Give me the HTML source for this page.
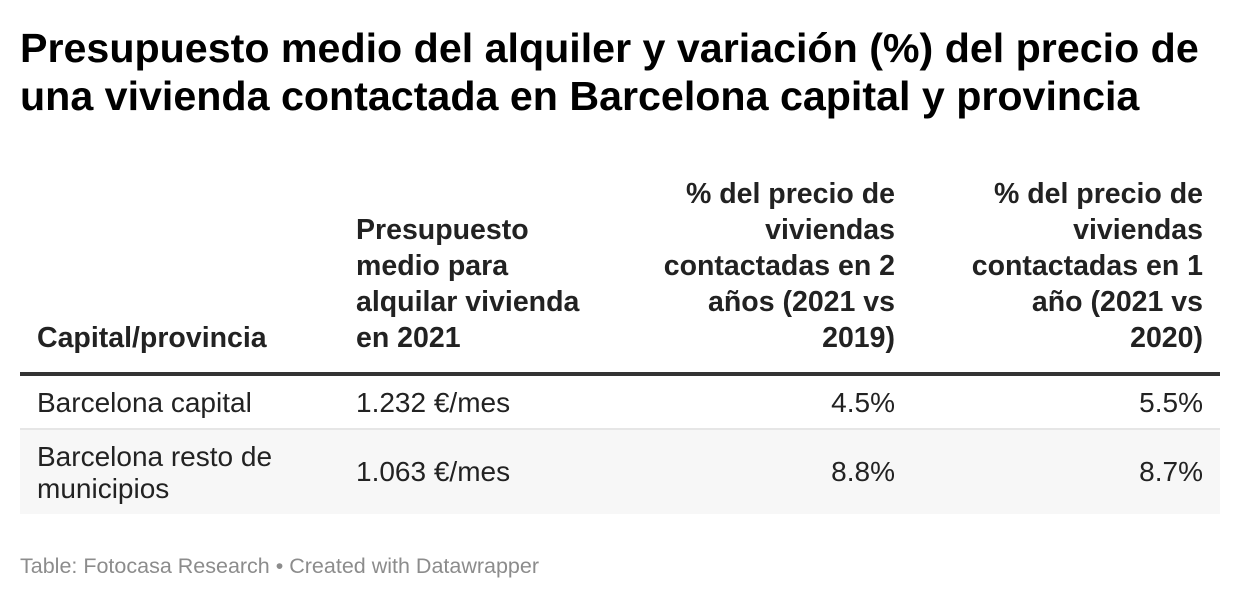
<!DOCTYPE html>
<html>
<head>
<meta charset="utf-8">
<style>
  html, body { margin:0; padding:0; background:#fff; }
  body { width:1240px; height:600px; position:relative; overflow:hidden;
         font-family:"Liberation Sans", Arial, sans-serif; }
  .abs { position:absolute; white-space:nowrap; }
  .title { font-weight:bold; font-size:41.2px; line-height:48px; color:#000; left:20px; }
  .hd { font-weight:bold; font-size:28.5px; line-height:36px; color:#222; }
  .hd.r { text-align:right; }
  .bd { font-size:28px; line-height:32px; color:#222; }
  .bd.r { text-align:right; }
  .foot { font-size:21.5px; line-height:26px; color:#8c8c8c; left:20px; top:553px; }
</style>
</head>
<body>
  <div class="abs title" style="top:24px;">Presupuesto medio del alquiler y variación (%) del precio de</div>
  <div class="abs title" style="top:72px;">una vivienda contactada en Barcelona capital y provincia</div>

  <!-- header -->
  <div class="abs hd" style="left:37px; top:320px;">Capital/provincia</div>
  <div class="abs hd" style="left:356px; top:212px;">Presupuesto<br>medio para<br>alquilar vivienda<br>en 2021</div>
  <div class="abs hd r" style="right:345px; top:176px;">% del precio de<br>viviendas<br>contactadas en 2<br>años (2021 vs<br>2019)</div>
  <div class="abs hd r" style="right:37px; top:176px;">% del precio de<br>viviendas<br>contactadas en 1<br>año (2021 vs<br>2020)</div>

  <!-- thick rule -->
  <div class="abs" style="left:20px; top:372px; width:1200px; height:4px; background:#333;"></div>

  <!-- row 1 -->
  <div class="abs bd" style="left:37px; top:387px;">Barcelona capital</div>
  <div class="abs bd" style="left:356px; top:387px;">1.232 €/mes</div>
  <div class="abs bd r" style="right:345px; top:387px;">4.5%</div>
  <div class="abs bd r" style="right:37px; top:387px;">5.5%</div>

  <!-- separator -->
  <div class="abs" style="left:20px; top:428px; width:1200px; height:2px; background:#e6e6e6;"></div>
  <!-- row 2 bg -->
  <div class="abs" style="left:20px; top:430px; width:1200px; height:84px; background:#f7f7f7;"></div>

  <!-- row 2 -->
  <div class="abs bd" style="left:37px; top:441px;">Barcelona resto de<br>municipios</div>
  <div class="abs bd" style="left:356px; top:456px;">1.063 €/mes</div>
  <div class="abs bd r" style="right:345px; top:456px;">8.8%</div>
  <div class="abs bd r" style="right:37px; top:456px;">8.7%</div>

  <div class="abs foot">Table: Fotocasa Research • Created with Datawrapper</div>
</body>
</html>
